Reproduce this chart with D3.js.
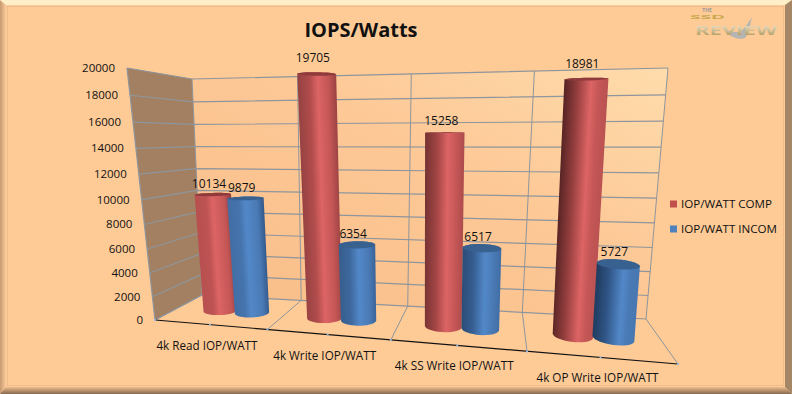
<!DOCTYPE html>
<html>
<head>
<meta charset="utf-8">
<script src="https://cdn.jsdelivr.net/npm/d3@7"></script>
<style>
  html, body { margin: 0; padding: 0; background: #fecb97; overflow: hidden; }
  text { font-family: "Open Sans", sans-serif; fill: #111; }
</style>
</head>
<body>
<div id="chart"></div>
<script>
const categories = ["4k Read IOP/WATT", "4k Write IOP/WATT", "4k SS Write IOP/WATT", "4k OP Write IOP/WATT"];
const compValues = [10134, 19705, 15258, 18981];
const incomValues = [9879, 6354, 6517, 5727];
const tickValues = [0, 2000, 4000, 6000, 8000, 10000, 12000, 14000, 16000, 18000, 20000];
const seriesNames = ["IOP/WATT COMP", "IOP/WATT INCOM"];

const width = 792, height = 394;

// corners of the fake 3d box: bottom left, bottom right, top right, top left
const backQuad = [[202, 295], [646, 319], [668, 68], [192, 79]];
const frontQuad = [[155, 320], [678, 364], [703, 56], [127, 68]];

// unit square to quad
function homography(q) {
    const [[x0, y0], [x1, y1], [x2, y2], [x3, y3]] = q;
    const dx1 = x1 - x2, dx2 = x3 - x2, sx = x0 - x1 + x2 - x3;
    const dy1 = y1 - y2, dy2 = y3 - y2, sy = y0 - y1 + y2 - y3;
    const den = dx1 * dy2 - dx2 * dy1;
    const g = (sx * dy2 - dx2 * sy) / den, h = (dx1 * sy - sx * dy1) / den;
    const a = x1 - x0 + g * x1, b = x3 - x0 + h * x3;
    const d = y1 - y0 + g * y1, e = y3 - y0 + h * y3;
    return (u, v) => {
        const w = g * u + h * v + 1;
        return [(a * u + b * v + x0) / w, (d * u + e * v + y0) / w];
    };
}
const back = homography(backQuad), front = homography(frontQuad);

// u across the categories, v up the value axis, depth 0 = back wall, 1 = front edge
function project(u, v, depth) {
    const p = back(u, v), q = front(u, v);
    return [p[0] + (q[0] - p[0]) * depth, p[1] + (q[1] - p[1]) * depth];
}

const xScale = d3.scaleBand().domain(categories).range([0, 1]);
const yScale = d3.scaleLinear().domain([0, 20000]).range([0, 1]);
const seriesScale = d3.scalePoint().domain(seriesNames).range([0.36, 0.655]);

const line = d3.line();
const closed = d3.line().curve(d3.curveLinearClosed);

const svg = d3.select("#chart").append("svg")
    .attr("width", width)
    .attr("height", height)
    .style("display", "block");
const defs = svg.append("defs");

const bgGrad = defs.append("linearGradient").attr("id", "wallGrad")
    .attr("x1", 0).attr("y1", 1).attr("x2", 1).attr("y2", 0);
bgGrad.append("stop").attr("offset", 0).attr("stop-color", "#f8bd88");
bgGrad.append("stop").attr("offset", 0.6).attr("stop-color", "#fdc997");
bgGrad.append("stop").attr("offset", 1).attr("stop-color", "#ffdcac");

const bottomGrad = defs.append("linearGradient").attr("id", "bottomGrad")
    .attr("x1", 0).attr("y1", 0).attr("x2", 0).attr("y2", 1);
bottomGrad.append("stop").attr("offset", 0).attr("stop-color", "#eebd8e");
bottomGrad.append("stop").attr("offset", 1).attr("stop-color", "#86684e");

const leftGrad = defs.append("linearGradient").attr("id", "leftGrad");
leftGrad.append("stop").attr("offset", 0).attr("stop-color", "#c79a70");
leftGrad.append("stop").attr("offset", 1).attr("stop-color", "#fbcb9c");

// background and bevel frame
svg.append("rect").attr("width", width).attr("height", height).attr("fill", "#fecb97");
svg.append("path").attr("d", closed([[0, 0], [6, 5], [6, 387], [0, 394]])).attr("fill", "url(#leftGrad)");
svg.append("path").attr("d", closed([[0, 0], [792, 0], [785, 5], [6, 5]])).attr("fill", "#ffefc9");
svg.append("path").attr("d", closed([[792, 0], [792, 394], [785, 387], [785, 5]])).attr("fill", "#a58767");
svg.append("path").attr("d", closed([[0, 394], [6, 387], [785, 387], [792, 394]])).attr("fill", "url(#bottomGrad)");
svg.append("rect").attr("x", 7.5).attr("y", 6.5).attr("width", 776).attr("height", 379)
    .attr("fill", "none").attr("stroke", "#efbd8c");

// title
svg.append("text").attr("x", 361).attr("y", 37)
    .attr("text-anchor", "middle")
    .style("font-size", "20px").style("font-weight", 700)
    .text("IOPS/Watts");

// walls
const boxTop = yScale(20000), boxBottom = yScale(0);
svg.append("path").attr("d", closed([back(0, boxBottom), back(1, boxBottom), back(1, boxTop), back(0, boxTop)]))
    .attr("fill", "url(#wallGrad)");
svg.append("path").attr("d", closed([front(0, boxBottom), back(0, boxBottom), back(0, boxTop), front(0, boxTop)]))
    .attr("fill", "#a28061");

const gridColor = "#8f959c";
const grid = svg.append("g").attr("fill", "none").attr("stroke", gridColor).attr("stroke-width", 1.2);

tickValues.forEach(t => {
    const v = yScale(t);
    grid.append("path").attr("d", line([front(0, v), back(0, v), back(1, v)]));
});
d3.range(categories.length + 1).forEach(i => {
    const u = i / categories.length;
    grid.append("path").attr("d", line([front(u, 0), back(u, 0), back(u, 1)])).attr("stroke-width", 1);
});
grid.append("path").attr("d", line([front(0, 0), front(0, 1)]));

// front edge of the floor
svg.append("path").attr("d", line([front(0, 0), front(1, 0)]))
    .attr("stroke", "#111").attr("stroke-width", 1.2).attr("fill", "none");
d3.range(categories.length * 2 + 1).forEach(i => {
    const p = front(i / (categories.length * 2), 0);
    svg.append("rect").attr("x", p[0] - 1).attr("y", p[1] - 1).attr("width", 2).attr("height", 2).attr("fill", "#9db8d8");
});

// value axis labels
svg.append("g").selectAll("text").data(tickValues).join("text")
    .attr("x", d => front(0, yScale(d))[0] - 12)
    .attr("y", d => front(0, yScale(d))[1] + 4)
    .attr("text-anchor", "end")
    .style("font-size", "11.5px")
    .text(d => d);

// category labels sit below the front edge
svg.append("g").selectAll("text").data(categories).join("text")
    .attr("x", d => front(xScale(d) + xScale.bandwidth() / 2, 0)[0] - 3)
    .attr("y", d => front(xScale(d) + xScale.bandwidth() / 2, 0)[1] + 25)
    .attr("text-anchor", "middle")
    .style("font-size", "11.7px")
    .text(d => d);

// cylinders
const palette = {
    [seriesNames[0]]: { dark: "#4f2020", edge: "#8c3a3a", mid: "#c45656", hi: "#dd6464" },
    [seriesNames[1]]: { dark: "#1f3a5c", edge: "#2c5080", mid: "#4a7ab5", hi: "#5288c8" }
};
const capColor = { [seriesNames[0]]: "#8f3b3c", [seriesNames[1]]: "#39618f" };
const radiusU = 0.037, radiusD = 0.17, barDepth = 0.5;
// first group sits a little right of where the box puts it
const catNudge = [0.012, 0, 0, 0];

function disk(u, v) {
    return d3.range(36).map(i => {
        const a = i / 36 * 2 * Math.PI;
        return project(u + radiusU * Math.cos(a), v, barDepth + radiusD * Math.sin(a));
    });
}

function drawBar(name, category, value, idx) {
    const u = xScale(category) + seriesScale(name) * xScale.bandwidth() + catNudge[categories.indexOf(category)];
    const v = yScale(value);
    const bottom = disk(u, 0), top = disk(u, v);
    const c0 = d3.polygonCentroid(bottom), c1 = d3.polygonCentroid(top);
    const halfW = (d3.max(bottom, d => d[0]) - d3.min(bottom, d => d[0])) / 2 + 1;
    const ax = c1[0] - c0[0], ay = c1[1] - c0[1], len = Math.hypot(ax, ay);
    const nx = -ay / len, ny = ax / len;
    const sign = nx < 0 ? -1 : 1;

    // shading moves with the position across the chart
    const pal = palette[name];
    const id = "bar" + idx;
    const grad = defs.append("linearGradient").attr("id", id)
        .attr("gradientUnits", "userSpaceOnUse")
        .attr("x1", c0[0] - sign * nx * halfW).attr("y1", c0[1] - sign * ny * halfW)
        .attr("x2", c0[0] + sign * nx * halfW).attr("y2", c0[1] + sign * ny * halfW);
    grad.append("stop").attr("offset", 0).attr("stop-color", d3.interpolateRgb(pal.mid, pal.dark)(u * 1.1));
    grad.append("stop").attr("offset", 0.3).attr("stop-color", d3.interpolateRgb(pal.mid, pal.edge)(u));
    grad.append("stop").attr("offset", 0.45 + u * 0.2).attr("stop-color", pal.hi);
    grad.append("stop").attr("offset", 0.8).attr("stop-color", pal.mid);
    grad.append("stop").attr("offset", 1).attr("stop-color", d3.interpolateRgb(pal.edge, pal.mid)(u));

    svg.append("path").attr("d", closed(d3.polygonHull(bottom.concat(top)))).attr("fill", "url(#" + id + ")");
    svg.append("path").attr("d", closed(top)).attr("fill", capColor[name]);

    const topY = d3.min(top, d => d[1]);
    svg.append("text").attr("x", c1[0] - 4).attr("y", topY - 10 * v)
        .attr("text-anchor", "middle")
        .style("font-size", "12px")
        .text(value);
}

// draw back to front, left to right
categories.forEach((cat, i) => {
    drawBar(seriesNames[0], cat, compValues[i], i * 2);
    drawBar(seriesNames[1], cat, incomValues[i], i * 2 + 1);
});

// legend
const legendY = d3.scalePoint().domain(seriesNames).range([204, 229]);
const legendFill = { [seriesNames[0]]: "#c0504d", [seriesNames[1]]: "#4f81bd" };
seriesNames.forEach(name => {
    svg.append("rect").attr("x", 670).attr("y", legendY(name) - 3.5).attr("width", 7).attr("height", 7).attr("fill", legendFill[name]);
    svg.append("text").attr("x", 681).attr("y", legendY(name) + 4).style("font-size", "11.6px").text(name);
});

// site logo
const logoGrad = defs.append("linearGradient").attr("id", "logoGrad").attr("x1", 0).attr("y1", 0).attr("x2", 0).attr("y2", 1);
logoGrad.append("stop").attr("offset", 0).attr("stop-color", "#f4efe0");
logoGrad.append("stop").attr("offset", 1).attr("stop-color", "#a58a45");
const logo = svg.append("g").style("font-weight", 700);
logo.append("path").attr("d", "M722,27 C728,36 738,41 745,38 C749,34 750,24 752,17 C747,24 744,32 736,32 C731,32 726,30 722,27 Z")
    .attr("fill", "#b4b4b2");
logo.append("text").attr("x", 707).attr("y", 12).attr("text-anchor", "middle").style("font-size", "5px").style("fill", "#9a9a9a").text("THE");
logo.append("text").attr("x", 690).attr("y", 19).attr("textLength", 35).attr("lengthAdjust", "spacingAndGlyphs").style("font-size", "6px").style("fill", "#c9a94f").text("SSD");
logo.append("text").attr("x", 695).attr("y", 35).attr("textLength", 82).attr("lengthAdjust", "spacingAndGlyphs").style("font-size", "12px").style("fill", "url(#logoGrad)").text("REVIEW");
</script>
</body>
</html>
